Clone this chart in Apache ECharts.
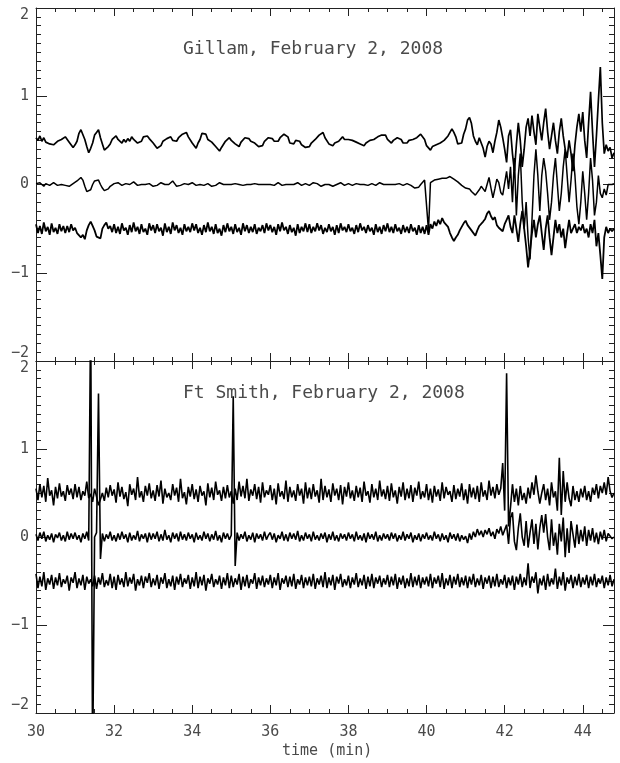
<!DOCTYPE html>
<html>
<head>
<meta charset="utf-8">
<script src="https://cdn.jsdelivr.net/npm/echarts@6/dist/echarts.min.js"></script>
<style>
  html, body { margin: 0; padding: 0; background: #ffffff; }
  #chart { width: 620px; height: 763px; }
</style>
</head>
<body>
<div id="chart"></div>
<script>
// Magnetometer traces, two stations, sampled every 0.05 min from 30 min.
// Trace values are stored in hundredths of the plotted unit.
const T_START = 30;
const T_STEP = 0.05;
const VALUE_UNIT = 0.01;

const X_MIN = 30, X_MAX = 44.8, X_MAJOR = 2, X_MINOR = 0.5;
const Y_MIN = -2, Y_MAX = 2, Y_MAJOR = 1;

const stationTitles = ['Gillam, February 2, 2008', 'Ft Smith, February 2, 2008'];
const xAxisName = 'time (min)';

// ---- Gillam ----
const gillamTop = [
  53, 50, 55, 49, 53, 48, 48, 46, 46, 45, 47, 49, 50, 51, 52, 54, 51, 48, 46, 42,
  45, 49, 58, 62, 61, 51, 43, 36, 41, 47, 56, 59, 62, 53, 46, 39, 38, 43, 46, 51,
  49, 55, 51, 51, 47, 51, 48, 52, 49, 54, 51, 51, 47, 48, 49, 54, 54, 55, 52, 52,
  47, 46, 41, 42, 44, 49, 48, 52, 51, 54, 50, 51, 49, 53, 53, 57, 56, 59, 54, 52,
  47, 45, 41, 47, 51, 58, 58, 57, 51, 51, 48, 48, 43, 42, 38, 42, 44, 49, 49, 53,
  50, 50, 46, 46, 43, 48, 49, 53, 51, 52, 49, 50, 47, 47, 43, 44, 44, 49, 49, 53,
  51, 52, 49, 50, 49, 53, 53, 57, 56, 54, 47, 46, 46, 50, 49, 49, 45, 45, 42, 43,
  43, 47, 47, 51, 51, 56, 56, 59, 53, 51, 46, 46, 44, 47, 45, 49, 50, 54, 51, 52,
  51, 52, 50, 51, 48, 49, 46, 47, 44, 47, 47, 50, 48, 51, 51, 54, 53, 56, 55, 56,
  51, 51, 47, 50, 50, 53, 51, 51, 47, 48, 47, 50, 49, 51, 49, 53, 53, 57, 56, 51,
  44, 43, 39, 43, 42, 45, 45, 47, 47, 50, 49, 55, 57, 63, 59, 54, 46, 45, 47, 57,
  63, 73, 76, 69, 55, 49, 45, 53, 54, 41, 31, 43, 49, 46, 36, 49, 59, 73, 65, 53,
  40, 25, 55, 62, 35, 15, 45, 70, 50, 20, 40, 65, 75, 55, 78, 60, 45, 80, 65, 50,
  70, 86, 60, 40, 55, 70, 50, 35, 60, 75, 55, 40, 30, 50, 35, 15, 45, 65, 80, 60,
  82, 50, 30, 70, 105, 60, 20, 55, 95, 133, 70, 35, 45, 38, 42, 30, 36
];
const gillamMid = [
  1, -1, 2, 0, -2, 1, 0, -1, 1, 2, 0, -1, -2, 0, 1, -1, -3, -2, 0, 1,
  2, 4, 6, 8, 5, -2, -8, -10, -6, 0, 4, 6, 5, 0, -4, -7, -8, -5, -2, 0,
  1, 0, 2, 1, -1, 0, 1, -1, 0, 2, 3, 1, -1, -2, 0, 1, 0, -1, 1, 0,
  -2, -3, -1, 0, 2, 1, 0, -1, 0, 2, 4, 1, -2, -3, -1, 0, 1, -1, 0, 1,
  2, 0, -1, 1, 0, -2, -1, 0, 1, 0, -2, -3, -1, 0, 2, 1, 0, -1, 0, 1,
  0, 2, 1, -1, 0, 1, -1, -2, 0, 1, 0, -1, 1, 2, 0, -1, 0, 1, 0, -1,
  0, 1, -1, 0, 2, 1, -1, -2, 0, 1, 0, -1, 0, 1, 2, 0, -1, 0, 1, 0,
  -1, 0, 2, 3, 1, 0, -2, -1, 0, 1, 0, -1, -2, -1, 0, 1, 2, 0, -1, 0,
  1, 0, -1, 0, 1, 2, 0, -1, 0, 1, -1, 0, 1, 0, -1, 0, 2, 1, 0, -1,
  0, 1, 0, -1, 0, 2, 1, 0, -1, 0, 1, 0, -1, -2, -4, -5, -3, 0, 2, 5,
  7, -52, 2, 4, 5, 4, 6, 5, 7, 6, 7, 8, 9, 7, 6, 4, 3, 1, -1, -3,
  -4, -6, -5, -8, -10, -12, -13, -6, -2, -5, -8, 0, 8, -4, -15, -5, 6, 2, -9, -12,
  -12, 15, -5, 20, -20, 30, -35, 10, 35, -20, -50, -20, -60, -85, -40, 10, 40, 10, -30, 10,
  30, 15, -10, -40, -20, 10, 30, 0, -30, -10, 20, 40, 10, -20, 5, 35, 10, -25, -45, -20,
  15, -10, -40, -10, 30, 5, -35, -20, 10, -10, -15, -5, -12, 0, 2, 0, 1
];
const gillamBottom = [
  -45, -55, -47, -56, -43, -53, -48, -57, -44, -54, -49, -56, -45, -53, -47, -55, -47, -54, -45, -52,
  -49, -55, -53, -60, -57, -62, -52, -46, -42, -47, -52, -59, -57, -61, -50, -46, -43, -50, -47, -54,
  -45, -55, -48, -56, -44, -52, -49, -57, -46, -54, -43, -53, -48, -56, -45, -54, -50, -57, -44, -52,
  -46, -55, -45, -53, -49, -58, -44, -54, -48, -56, -43, -52, -46, -55, -49, -57, -45, -53, -48, -54,
  -44, -52, -45, -55, -49, -57, -46, -54, -43, -53, -48, -56, -45, -55, -50, -58, -46, -54, -44, -53,
  -48, -56, -45, -54, -49, -57, -44, -53, -46, -55, -48, -54, -45, -56, -49, -53, -46, -55, -44, -52,
  -46, -54, -48, -57, -45, -53, -43, -52, -48, -56, -46, -54, -49, -58, -45, -55, -48, -53, -44, -54,
  -45, -55, -48, -53, -44, -52, -46, -56, -49, -54, -45, -53, -48, -57, -46, -55, -44, -52, -48, -54,
  -45, -53, -49, -56, -46, -54, -44, -52, -48, -55, -46, -53, -49, -57, -45, -54, -48, -56, -46, -53,
  -44, -54, -48, -55, -45, -53, -49, -56, -46, -54, -48, -55, -45, -53, -49, -57, -46, -55, -48, -56,
  -46, -57, -45, -50, -42, -47, -40, -45, -38, -43, -42, -48, -55, -60, -64, -60, -57, -52, -48, -44,
  -41, -46, -44, -52, -53, -58, -52, -47, -49, -42, -39, -33, -30, -36, -40, -37, -46, -49, -48, -53,
  -45, -40, -35, -48, -55, -35, -50, -65, -45, -30, -50, -70, -94, -75, -55, -40, -60, -45, -35, -55,
  -74, -50, -35, -60, -80, -60, -40, -55, -45, -60, -50, -72, -55, -40, -55, -50, -45, -55, -48, -52,
  -45, -55, -50, -60, -45, -55, -40, -70, -55, -80, -107, -60, -48, -55, -50, -53, -50
];

// ---- Ft Smith ----
const ftSmithTop = [
  55, 42, 60, 45, 58, 40, 67, 47, 53, 36, 57, 44, 61, 46, 52, 41, 59, 48, 55, 43,
  60, 45, 57, 42, 52, 47, 63, 44, 49, 40, 55, 46, 36, 43, 50, 41, 56, 45, 59, 47,
  54, 39, 62, 46, 57, 43, 51, 35, 60, 48, 55, 42, 68, 45, 52, 40, 58, 47, 61, 44,
  53, 41, 59, 46, 64, 38, 55, 45, 50, 42, 60, 47, 56, 40, 66, 44, 51, 37, 57, 46,
  60, 43, 54, 40, 58, 47, 52, 36, 61, 45, 56, 42, 63, 48, 53, 41, 57, 44, 59, 45,
  52, 38, 55, 42, 63, 46, 58, 44, 66, 41, 54, 47, 60, 43, 57, 39, 62, 45, 53, 48,
  59, 42, 55, 37, 61, 46, 52, 43, 64, 40, 57, 45, 53, 41, 60, 47, 55, 38, 62, 44,
  56, 43, 60, 46, 53, 39, 66, 42, 58, 45, 54, 40, 61, 47, 55, 42, 59, 37, 57, 46,
  62, 44, 53, 41, 58, 45, 56, 40, 63, 47, 52, 39, 60, 45, 55, 42, 64, 46, 54, 43,
  58, 41, 61, 45, 53, 38, 57, 46, 62, 42, 55, 44, 59, 40, 56, 47, 63, 43, 52, 45,
  60, 42, 55, 39, 58, 46, 54, 41, 62, 44, 57, 48, 52, 40, 59, 43, 55, 46, 61, 42,
  54, 38, 60, 45, 56, 43, 58, 40, 62, 46, 53, 42, 64, 47, 57, 44, 60, 48, 55, 84,
  30, 186, 12, 34, 60, 40, 55, 36, 58, 42, 50, 38, 56, 44, 62, 48, 70, 52, 38, 50,
  60, 42, 55, 36, 62, 45, 52, 30, 90, 25, 75, 40, 62, 44, 35, 58, 42, 52, 40, 55,
  45, 58, 42, 52, 40, 56, 48, 60, 44, 58, 50, 62, 48, 68, 52, 45, 50
];
const ftSmithMid = [
  3, -4, 5, -2, 6, -5, 2, -3, 4, -6, 3, -1, 5, -4, 2, -5, 6, -3, 4, -2,
  5, -3, 2, -6, 4, -2, 6, -4, 260, -260, 0, 5, 163, -25, 4, -5, 3, -2, 6, -4,
  2, -5, 4, -3, 6, -2, 3, -6, 5, -4, 2, -3, 7, -5, 3, -2, 4, -6, 5, -3,
  4, -2, 6, -5, 3, -4, 8, -3, 2, -6, 5, -2, 4, -5, 6, -3, 3, -4, 5, -2,
  3, -6, 5, -3, 2, -4, 6, -2, 4, -5, 3, -3, 7, -4, 2, -6, 5, -2, 4, -3,
  2, 160, -33, 5, -4, 3, -2, 6, -5, 2, -3, 5, -6, 4, -2, 3, -4, 6, -3, 2,
  5, -3, 4, -6, 2, -2, 6, -4, 3, -5, 5, -2, 4, -3, 7, -5, 2, -4, 5, -2,
  3, -5, 6, -3, 2, -4, 4, -2, 5, -6, 3, -3, 6, -4, 2, -5, 4, -2, 3, -4,
  5, -2, 3, -5, 6, -3, 2, -4, 4, -6, 5, -2, 3, -3, 6, -5, 2, -4, 4, -2,
  3, -4, 5, -2, 4, -5, 2, -3, 6, -4, 3, -2, 5, -6, 2, -3, 4, -5, 3, -2,
  5, -3, 2, -4, 6, -2, 3, -5, 4, -3, 2, -6, 5, -2, 3, -4, 4, -5, 2, -3,
  1, -7, 4, -3, 6, 0, 9, 2, 7, 0, 8, 3, 10, 1, 6, -2, 9, 4, 12, 2,
  8, 14, -8, 22, 28, -5, -15, 10, 27, 0, -10, 18, -12, 5, 20, -8, 15, -14, 10, 25,
  5, 26, 0, -15, 20, -10, 5, -20, 15, -5, 22, -23, 10, -18, 18, 3, -12, 14, -8, 8,
  -5, 12, -10, 8, -4, 10, -6, 5, -8, 6, -3, 8, -5, 4, 2, -2, 0
];
const ftSmithBottom = [
  -42, -58, -45, -56, -40, -60, -47, -54, -43, -59, -46, -55, -41, -57, -48, -53, -44, -61, -46, -52,
  -40, -58, -47, -55, -43, -60, -45, -53, -48, -56, -44, -59, -46, -54, -41, -57, -49, -55, -42, -58,
  -45, -60, -43, -54, -47, -57, -40, -56, -46, -53, -42, -61, -48, -55, -44, -58, -45, -52, -41, -57,
  -47, -55, -43, -59, -46, -53, -41, -58, -48, -56, -44, -60, -45, -54, -42, -57, -47, -53, -43, -59,
  -46, -56, -40, -58, -45, -55, -43, -61, -47, -53, -42, -57, -48, -54, -44, -59, -46, -55, -41, -58,
  -44, -57, -47, -54, -42, -60, -45, -56, -43, -58, -48, -53, -41, -59, -46, -55, -44, -57, -47, -54,
  -43, -58, -46, -55, -41, -60, -47, -53, -44, -57, -45, -56, -42, -59, -48, -54, -43, -58, -46, -55,
  -45, -56, -42, -59, -47, -54, -44, -57, -40, -58, -46, -55, -43, -60, -45, -53, -42, -57, -48, -55,
  -44, -58, -46, -54, -41, -57, -47, -55, -43, -59, -45, -56, -42, -58, -46, -53, -44, -57, -47, -54,
  -43, -57, -45, -55, -42, -59, -46, -54, -44, -58, -47, -56, -41, -57, -45, -55, -43, -58, -46, -54,
  -45, -56, -42, -58, -46, -53, -44, -57, -41, -59, -47, -55, -43, -58, -45, -54, -42, -57, -46, -55,
  -44, -58, -45, -54, -42, -57, -47, -55, -43, -59, -46, -53, -44, -58, -45, -56, -42, -57, -48, -54,
  -43, -58, -46, -55, -44, -60, -45, -54, -42, -57, -46, -55, -30, -58, -45, -52, -40, -64, -47, -55,
  -44, -60, -42, -56, -47, -54, -36, -59, -45, -55, -40, -61, -46, -53, -43, -58, -45, -55, -42, -57,
  -46, -54, -43, -58, -45, -55, -42, -57, -47, -53, -44, -58, -46, -55, -43, -56, -48
];

// ---- styling ----
const FONT = 'DejaVu Sans Mono';
const FRAME = '#222222';
const TEXT = '#4a4a4a';
const TRACE = '#000000';

function toPoints(values) {
  return values.map((v, i) => [Number((T_START + i * T_STEP).toFixed(2)), v * VALUE_UNIT]);
}

function signed(v) {
  return v < 0 ? '\u2212' + Math.abs(v) : String(v);
}

const grids = [
  { left: 36, right: 6, top: 8, height: 353 },
  { left: 36, right: 6, top: 361, height: 352 }
];

function xAxesFor(gridIndex, withLabels) {
  const base = { type: 'value', gridIndex, min: X_MIN, max: X_MAX, splitLine: { show: false } };
  const line = { show: true, onZero: false, lineStyle: { color: FRAME, width: 1 } };
  const noLine = { show: false, onZero: false };
  const major = { show: true, inside: true, length: 8, lineStyle: { color: FRAME, width: 1 } };
  const minor = { show: true, inside: true, length: 4, lineStyle: { color: FRAME, width: 1 } };
  return [
    Object.assign({}, base, {
      position: 'bottom', interval: X_MAJOR, axisLine: line, axisTick: major,
      axisLabel: {
        show: withLabels, showMaxLabel: false, margin: 12,
        color: TEXT, fontFamily: FONT, fontSize: 15
      }
    }),
    Object.assign({}, base, {
      position: 'bottom', interval: X_MINOR, axisLine: noLine, axisTick: minor,
      axisLabel: { show: false }
    }),
    Object.assign({}, base, {
      position: 'top', interval: X_MAJOR, axisLine: line, axisTick: major,
      axisLabel: { show: false }
    }),
    Object.assign({}, base, {
      position: 'top', interval: X_MINOR, axisLine: noLine, axisTick: minor,
      axisLabel: { show: false }
    })
  ];
}

function yAxesFor(gridIndex) {
  const base = {
    type: 'value', gridIndex, min: Y_MIN, max: Y_MAX, interval: Y_MAJOR,
    splitLine: { show: false },
    axisLine: { show: true, onZero: false, lineStyle: { color: FRAME, width: 1 } },
    axisTick: { show: true, inside: true, length: 11, lineStyle: { color: FRAME, width: 1 } },
    minorTick: { show: true, splitNumber: 10, length: 5, lineStyle: { color: FRAME, width: 1 } }
  };
  return [
    Object.assign({}, base, {
      position: 'left',
      axisLabel: {
        show: true, margin: 7, color: TEXT, fontFamily: FONT, fontSize: 15,
        formatter: signed,
        verticalAlignMinLabel: 'bottom', verticalAlignMaxLabel: 'top'
      }
    }),
    Object.assign({}, base, { position: 'right', axisLabel: { show: false } })
  ];
}

const xAxes = xAxesFor(0, false).concat(xAxesFor(1, true));
const yAxes = yAxesFor(0).concat(yAxesFor(1));

function trace(values, panel, width) {
  return {
    type: 'line',
    xAxisIndex: panel * 4,
    yAxisIndex: panel * 2,
    data: toPoints(values),
    showSymbol: false,
    symbol: 'none',
    sampling: null,
    clip: true,
    lineStyle: { color: TRACE, width: width },
    emphasis: { disabled: true },
    silent: true
  };
}

const series = [
  trace(gillamTop, 0, 1.7), trace(gillamMid, 0, 1.5), trace(gillamBottom, 0, 1.8),
  trace(ftSmithTop, 1, 1.6), trace(ftSmithMid, 1, 1.6), trace(ftSmithBottom, 1, 1.6)
];

const chart = echarts.init(document.getElementById('chart'), null, { renderer: 'canvas' });
chart.setOption({
  backgroundColor: '#ffffff',
  animation: false,
  grid: grids,
  xAxis: xAxes,
  yAxis: yAxes,
  series: series,
  graphic: [
    {
      type: 'text', left: 183, top: 40, silent: true,
      style: { text: stationTitles[0], font: '18px "' + FONT + '"', fill: TEXT }
    },
    {
      type: 'text', left: 183, top: 384, silent: true,
      style: { text: stationTitles[1], font: '18px "' + FONT + '"', fill: TEXT }
    },
    {
      type: 'text', left: 282, top: 744, silent: true,
      style: { text: xAxisName, font: '15px "' + FONT + '"', fill: TEXT }
    }
  ]
});
</script>
</body>
</html>
